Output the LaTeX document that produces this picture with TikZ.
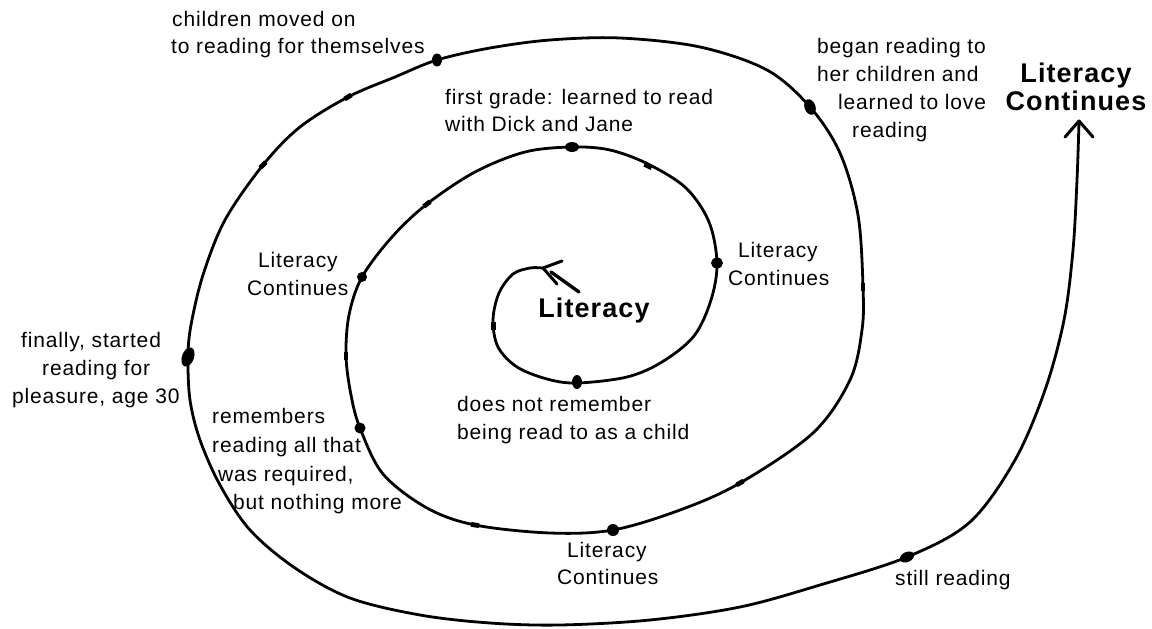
\documentclass[tikz,border=0pt]{standalone}
\usepackage{fontspec}
\setmainfont{Liberation Sans}[LetterSpace=4]
\begin{document}
\begin{tikzpicture}[x=1pt,y=-1pt,
  lbl/.style={anchor=base west, inner sep=0pt, font=\fontsize{21}{28}\selectfont},
  big/.style={anchor=base, inner sep=0pt, font=\fontsize{27}{30}\selectfont\bfseries},
  curve/.style={line width=2.8pt, line cap=round, line join=round},
  tickmark/.style={line width=4.8pt},
  arrowline/.style={line width=3pt, line cap=round, line join=round}]
\useasboundingbox[fill=white] (0,0) rectangle (1152,629);

% spiral
\draw[curve] plot[smooth, tension=0.55] coordinates {
 (542,268) (530,268) (513,274) (499,293) (493,320) (498,347) (517,367)
 (547,379) (577,383) (627,377) (662,362) (694,336) (711,300) (717,263)
 (709,222) (686,188) (648,164) (610,150) (572,147) (525,152) (475,172)
 (427,204) (392,237) (362,277) (349,315) (346,356) (351,395) (360,428)
 (383,474) (427,508) (475,525) (550,533) (613,530) (680,510) (740,483)
 (813,433) (850,380) (862,330) (863,287) (858,215) (840,153) (810,107)
 (767,70) (700,47) (620,38) (550,40) (490,48) (437,60) (395,77) (348,97)
 (300,127) (263,165) (225,220) (203,275) (191,325) (188,357) (190,400)
 (200,440) (220,485) (250,530) (295,568) (350,598) (420,615) (490,623)
 (560,625) (650,620) (740,607) (820,585) (907,557) (970,522) (1015,460)
 (1045,390) (1064,320) (1073,250) (1077,180) (1079,122)};

% arrowheads
\draw[arrowline] (562,261) -- (543,268) -- (557,284);
\draw[line width=3.4pt, line cap=round] (551,272) -- (579,292);
\draw[arrowline] (1065,137) -- (1079,121) -- (1093,137);

% small tick marks along the curve
\draw[tickmark] (430.2,201.6) -- (423.8,206.4);
\draw[tickmark] (644.4,164.2) -- (651.6,167.8);
\draw[tickmark] (346,352) -- (346,360);
\draw[tickmark] (471,524.3) -- (479,525.7);
\draw[tickmark] (736.5,485) -- (743.5,481);
\draw[tickmark] (863,283) -- (863,291);
\draw[tickmark] (351.4,95) -- (344.6,99);
\draw[tickmark] (265.8,162.2) -- (260.2,167.8);
\draw[tickmark] (493.2,322) -- (493.2,330);

% dots
\fill (572,147) ellipse [x radius=7pt, y radius=5pt];
\fill (717,263) ellipse [x radius=6pt, y radius=5.5pt];
\fill (362,277) circle [radius=5pt];
\fill (360,428) circle [radius=5.5pt];
\fill (577,382) ellipse [x radius=5pt, y radius=7pt];
\fill (613,530) circle [radius=6pt];
\fill[rotate around={20:(810,107)}] (810,107) ellipse [x radius=5.5pt, y radius=8pt];
\fill (437,60) ellipse [x radius=5pt, y radius=6.5pt];
\fill[rotate around={-20:(188,357)}] (188,357) ellipse [x radius=6pt, y radius=10pt];
\fill[rotate around={25:(907,557)}] (907,557) ellipse [x radius=7.5pt, y radius=5pt];

% labels
\node[big] (lit) at (594,317) {Literacy};
\node[big] (tr1) at (1076,82) {Literacy};
\node[big] (tr2) at (1076,110) {Continues};

\node[lbl] (c1) at (172,27) {children moved on};
\node[lbl] (c2) at (171,53) {to reading for themselves};

\node[lbl] (f1) at (445,104) {first grade: learned to read};
\node[lbl] (f2) at (445,131) {with Dick and Jane};

\node[lbl] (b1) at (817,53) {began reading to};
\node[lbl] (b2) at (817,81) {her children and};
\node[lbl] (b3) at (838,109) {learned to love};
\node[lbl] (b4) at (852,137) {reading};

\node[lbl] (r1) at (738,257) {Literacy};
\node[lbl] (r2) at (728,285) {Continues};

\node[lbl] (l1) at (258,267) {Literacy};
\node[lbl] (l2) at (247,295) {Continues};

\node[lbl] (p1) at (21,347) {finally, started};
\node[lbl] (p2) at (42,375) {reading for};
\node[lbl] (p3) at (12,403) {pleasure, age 30};

\node[lbl] (m1) at (212,423) {remembers};
\node[lbl] (m2) at (212,452) {reading all that};
\node[lbl] (m3) at (218,481) {was required,};
\node[lbl] (m4) at (233,509) {but nothing more};

\node[lbl] (d1) at (457,411) {does not remember};
\node[lbl] (d2) at (457,439) {being read to as a child};

\node[lbl] (o1) at (567,557) {Literacy};
\node[lbl] (o2) at (557,584) {Continues};

\node[lbl] (s1) at (895,585) {still reading};
\end{tikzpicture}
\end{document}
